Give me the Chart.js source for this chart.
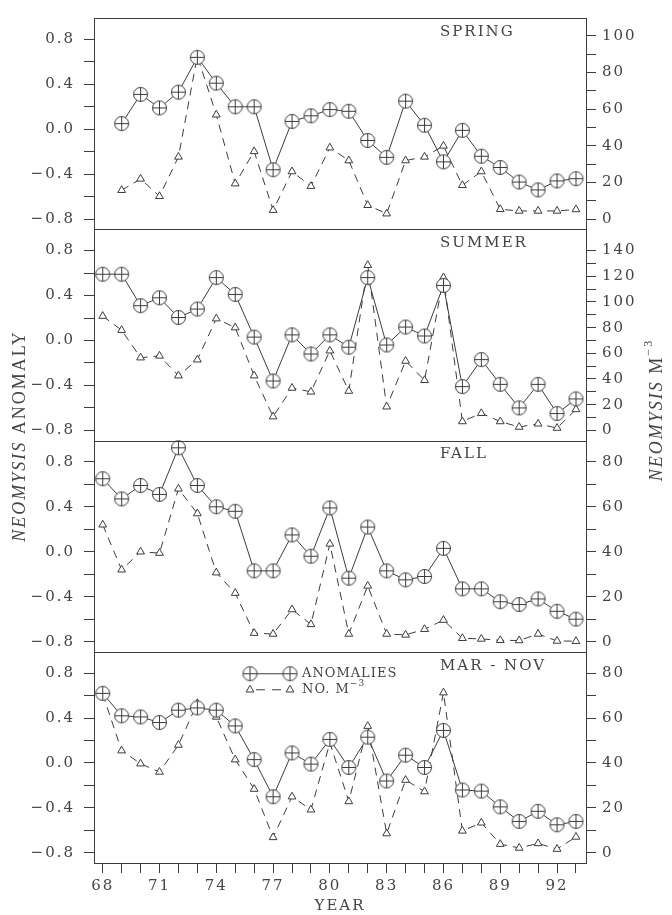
<!DOCTYPE html>
<html>
<head>
<meta charset="utf-8">
<script src="https://cdn.jsdelivr.net/npm/chart.js@4"></script>
<style>
  body { margin: 0; background: #fff; }
  canvas { display: block; }
</style>
</head>
<body>
<canvas id="neomysisChart" width="672" height="915"></canvas>
<script>
let years = [68, 69, 70, 71, 72, 73, 74, 75, 76, 77, 78, 79, 80, 81, 82, 83, 84, 85, 86, 87, 88, 89, 90, 91, 92, 93]

let panelTitles = [`SPRING`, `SUMMER`, `FALL`, `MAR - NOV`]

// anomalies (left axis) and density, no. per m^3 (right axis)
let springAnom = [null, 0.05, 0.31, 0.19, 0.33, 0.64, 0.41, 0.20, 0.20, -0.36, 0.07, 0.12, 0.175, 0.16, -0.10, -0.25, 0.25, 0.035, -0.29, -0.01, -0.24, -0.34, -0.47, -0.54, -0.46, -0.44]
let springDens = [null, 15.8, 22, 12.5, 34, 89, 57, 19.4, 37, 4.9, 26, 18, 39, 32, 7.6, 3, 32, 34, 40, 18.5, 26, 5.4, 4.5, 4.5, 4.5, 5.3]

let summerAnom = [0.59, 0.59, 0.31, 0.38, 0.205, 0.28, 0.56, 0.41, 0.03, -0.36, 0.05, -0.12, 0.05, -0.06, 0.56, -0.04, 0.12, 0.04, 0.49, -0.41, -0.17, -0.39, -0.60, -0.39, -0.65, -0.52]
let summerDens = [89, 78, 56.6, 58, 42.6, 55, 87, 80, 42.6, 10.7, 33, 30, 62, 30.6, 128.6, 18.4, 54, 39, 119, 6.9, 13.3, 6.9, 2.6, 5.1, 1.8, 16.3]

let fallAnom = [0.65, 0.47, 0.59, 0.51, 0.925, 0.59, 0.40, 0.36, -0.17, -0.17, 0.15, -0.04, 0.39, -0.235, 0.22, -0.17, -0.25, -0.22, 0.03, -0.33, -0.33, -0.445, -0.47, -0.42, -0.53, -0.60]
let fallDens = [52, 32, 40, 39.4, 68, 57, 30.7, 21.6, 3.8, 3.4, 14.3, 7.7, 43.5, 3.4, 24.8, 3.4, 3, 5.5, 9.6, 1.5, 1.2, 0.6, 0.5, 3.4, 0.3, 0.2]

let marNovAnom = [0.62, 0.42, 0.41, 0.36, 0.47, 0.49, 0.47, 0.33, 0.03, -0.30, 0.09, -0.01, 0.21, -0.04, 0.23, -0.16, 0.07, -0.04, 0.29, -0.24, -0.25, -0.39, -0.52, -0.43, -0.55, -0.52]
let marNovDens = [70.7, 45.5, 39.7, 36, 48, 66.6, 60.5, 41.5, 28.4, 6.9, 25, 19.2, 49, 22.9, 56.4, 8.6, 32.4, 27.3, 71.3, 9.8, 13.4, 3.9, 2.2, 4.2, 1.7, 7.1]

// tick values
let anomTicks = [-0.8, -0.6, -0.4, -0.2, 0, 0.2, 0.4, 0.6, 0.8]
let springTicks = [0, 10, 20, 30, 40, 50, 60, 70, 80, 90, 100]
let summerTicks = [0, 10, 20, 30, 40, 50, 60, 70, 80, 90, 100, 110, 120, 130, 140]
let fallTicks = [0, 10, 20, 30, 40, 50, 60, 70, 80]
let marNovTicks = [0, 10, 20, 30, 40, 50, 60, 70, 80]


const INK = `#3c3c3c`
const SERIF = `"DejaVu Serif", serif`
const TITLE_SERIF = `"Liberation Serif", serif`

function anomMarker() {
    const c = document.createElement(`canvas`)
    c.width = 17
    c.height = 17
    const g = c.getContext(`2d`)
    g.strokeStyle = INK
    g.lineWidth = 1
    g.fillStyle = `#fff`
    g.beginPath()
    g.arc(8.5, 8.5, 7, 0, Math.PI * 2)
    g.fill()
    g.stroke()
    g.beginPath()
    g.moveTo(8.5, 1.5); g.lineTo(8.5, 15.5)
    g.moveTo(1.5, 8.5); g.lineTo(15.5, 8.5)
    g.stroke()
    return c
}
const marker = anomMarker()

function pts(values) {
    return years.map((yr, i) => ({x: yr, y: values[i]})).filter(p => p.y !== null)
}

function anomSet(values, axis) {
    return {
        data: pts(values),
        yAxisID: axis,
        borderColor: INK,
        borderWidth: 1,
        pointStyle: marker,
        pointRadius: 7,
        tension: 0
    }
}

function densSet(values, axis) {
    return {
        data: pts(values),
        yAxisID: axis,
        borderColor: INK,
        borderWidth: 1,
        borderDash: [8, 6],
        pointStyle: `triangle`,
        pointRadius: 4.5,
        pointBorderWidth: 1,
        pointBorderColor: INK,
        pointBackgroundColor: `#fff`,
        tension: 0
    }
}

const tickFont = {family: SERIF, size: 15}

function fmtAnom(v) {
    const r = Math.round(v * 10)
    if (r % 4 !== 0) return ``
    return (r < 0 ? `\u2212` : ``) + Math.abs(r / 10).toFixed(1)
}

function leftAxis(weight) {
    return {
        type: `linear`, position: `left`, stack: `left`, stackWeight: 1, weight: weight,
        min: -0.89, max: 0.99,
        afterBuildTicks: (ax) => { ax.ticks = anomTicks.map(v => ({value: v})) },
        afterFit: (ax) => { ax.width = 94 },
        border: {display: true, color: INK, width: 1},
        grid: {drawOnChartArea: false, drawTicks: true, tickLength: 10, color: INK},
        ticks: {autoSkip: false, font: tickFont, color: `#444`, padding: 9, callback: fmtAnom}
    }
}

function rightAxis(weight, tickList, min, max) {
    return {
        type: `linear`, position: `right`, stack: `right`, stackWeight: 1, weight: weight,
        min: min, max: max,
        afterBuildTicks: (ax) => { ax.ticks = tickList.map(v => ({value: v})) },
        afterFit: (ax) => { ax.width = 86 },
        border: {display: true, color: INK, width: 1},
        grid: {drawOnChartArea: false, drawTicks: true, tickLength: 10, color: INK},
        ticks: {autoSkip: false, font: tickFont, color: `#444`, padding: 6, callback: v => v % 20 === 0 ? String(v) : ``}
    }
}

function drawTri(ctx, x, y) {
    const r = 4.5
    ctx.beginPath()
    ctx.moveTo(x, y - r)
    ctx.lineTo(x + r * 0.866, y + r * 0.5)
    ctx.lineTo(x - r * 0.866, y + r * 0.5)
    ctx.closePath()
    ctx.fillStyle = `#fff`
    ctx.fill()
    ctx.stroke()
}

// draws panel frames, titles, axis titles and the legend
const decor = {
    id: `decor`,
    beforeDraw(chart) {
        chart.ctx.letterSpacing = `2px`
    },
    afterDraw(chart) {
        const {ctx, chartArea, scales} = chart
        const ids = [`ySpring`, `ySummer`, `yFall`, `yMarNov`]
        ctx.save()
        ctx.strokeStyle = INK
        ctx.lineWidth = 1
        ctx.fillStyle = `#444`
        ctx.font = `15px ${SERIF}`
        ctx.letterSpacing = `2px`
        ctx.textBaseline = `middle`
        ctx.textAlign = `left`
        ids.forEach((id, i) => {
            const s = scales[id]
            ctx.beginPath()
            ctx.moveTo(chartArea.left, Math.round(s.top) + 0.5)
            ctx.lineTo(chartArea.right, Math.round(s.top) + 0.5)
            ctx.stroke()
            ctx.fillText(panelTitles[i], 440, s.top + 14)
        })

        // left axis title
        ctx.letterSpacing = `2px`
        ctx.save()
        ctx.translate(20, 436)
        ctx.rotate(-Math.PI / 2)
        ctx.font = `italic 18px ${TITLE_SERIF}`
        const w1 = ctx.measureText(`NEOMYSIS`).width
        ctx.font = `18px ${TITLE_SERIF}`
        const w2 = ctx.measureText(` ANOMALY`).width
        let x0 = -(w1 + w2) / 2
        ctx.font = `italic 18px ${TITLE_SERIF}`
        ctx.fillText(`NEOMYSIS`, x0, 0)
        ctx.font = `18px ${TITLE_SERIF}`
        ctx.fillText(` ANOMALY`, x0 + w1, 0)
        ctx.restore()

        // right axis title
        ctx.save()
        ctx.translate(657, 410)
        ctx.rotate(-Math.PI / 2)
        ctx.font = `italic 18px ${TITLE_SERIF}`
        const r1 = ctx.measureText(`NEOMYSIS`).width
        ctx.font = `18px ${TITLE_SERIF}`
        const r2 = ctx.measureText(` M`).width
        ctx.font = `12px ${TITLE_SERIF}`
        const r3 = ctx.measureText(`\u22123`).width
        x0 = -(r1 + r2 + r3) / 2
        ctx.font = `italic 18px ${TITLE_SERIF}`
        ctx.fillText(`NEOMYSIS`, x0, 0)
        ctx.font = `18px ${TITLE_SERIF}`
        ctx.fillText(` M`, x0 + r1, 0)
        ctx.font = `12px ${TITLE_SERIF}`
        ctx.fillText(`\u22123`, x0 + r1 + r2, -8)
        ctx.restore()

        // legend in bottom panel
        const top4 = scales.yMarNov.top
        const ly1 = top4 + 22
        const ly2 = top4 + 38
        ctx.beginPath()
        ctx.moveTo(250, ly1); ctx.lineTo(290, ly1)
        ctx.stroke()
        ctx.drawImage(marker, 250 - 8.5, ly1 - 8.5)
        ctx.drawImage(marker, 290 - 8.5, ly1 - 8.5)
        ctx.setLineDash([9, 7])
        ctx.beginPath()
        ctx.moveTo(256, ly2); ctx.lineTo(286, ly2)
        ctx.stroke()
        ctx.setLineDash([])
        drawTri(ctx, 250, ly2)
        drawTri(ctx, 290, ly2)
        ctx.fillStyle = `#444`
        ctx.font = `13px ${SERIF}`
        ctx.letterSpacing = `1px`
        ctx.fillText(`ANOMALIES`, 302, ly1)
        ctx.fillText(`NO. M`, 302, ly2)
        const nw = ctx.measureText(`NO. M`).width
        ctx.font = `9px ${SERIF}`
        ctx.fillText(`\u22123`, 302 + nw, ly2 - 6)
        ctx.restore()
    }
}

function neomysisChart() {
    const ctx = document.getElementById(`neomysisChart`)

    new Chart(ctx, {
        type: `line`,
        data: {
            datasets: [
                anomSet(springAnom, `ySpring`),
                anomSet(summerAnom, `ySummer`),
                anomSet(fallAnom, `yFall`),
                anomSet(marNovAnom, `yMarNov`),
                densSet(springDens, `rSpring`),
                densSet(summerDens, `rSummer`),
                densSet(fallDens, `rFall`),
                densSet(marNovDens, `rMarNov`)
            ]
        },
        options: {
            responsive: false,
            animation: false,
            devicePixelRatio: 1,
            clip: false,
            layout: {padding: {top: 9.5, left: 0, right: 0, bottom: 0}},
            plugins: {legend: {display: false}, tooltip: {enabled: false}},
            scales: {
                x: {
                    type: `linear`, min: 67.54, max: 93.53,
                    afterBuildTicks: (ax) => { ax.ticks = years.map(v => ({value: v})) },
                    afterFit: (ax) => { ax.height = 52 },
                    border: {display: true, color: INK, width: 1},
                    grid: {drawOnChartArea: false, drawTicks: true, tickLength: 10, color: INK},
                    ticks: {
                        autoSkip: false, maxRotation: 0, font: tickFont, color: `#444`, padding: 4,
                        callback: v => (v - 68) % 3 === 0 ? String(v) : ``
                    },
                    title: {display: true, text: `YEAR`, font: tickFont, color: `#444`, padding: {top: 0, bottom: 0}}
                },
                ySpring: leftAxis(4),
                ySummer: leftAxis(3),
                yFall: leftAxis(2),
                yMarNov: leftAxis(1),
                rSpring: rightAxis(1, springTicks, -5.5, 109.8),
                rSummer: rightAxis(2, summerTicks, -7.9, 156.6),
                rFall: rightAxis(3, fallTicks, -4.5, 89.5),
                rMarNov: rightAxis(4, marNovTicks, -4.5, 89.5)
            }
        },
        plugins: [decor]
    })
}

neomysisChart()
</script>
</body>
</html>
